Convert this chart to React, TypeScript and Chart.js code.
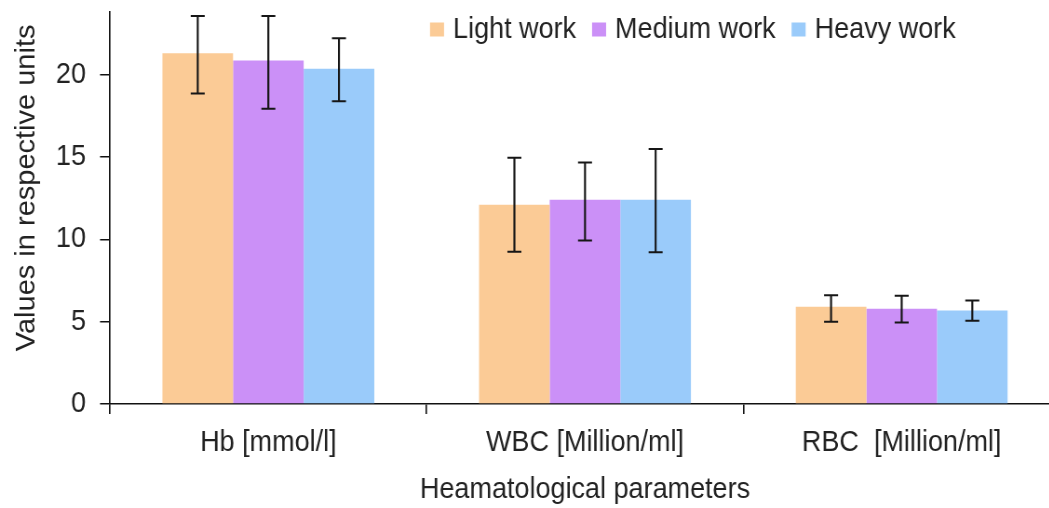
import React, { useEffect, useRef } from 'react';
import { Chart, registerables } from 'chart.js';

Chart.register(...registerables);

// ---- data ----
const categories = ['Hb [mmol/l]', 'WBC [Million/ml]', 'RBC  [Million/ml]'];
const seriesLabels = ['Light work', 'Medium work', 'Heavy work'];
const lightWork = [21.3, 12.1, 5.9];
const mediumWork = [20.85, 12.4, 5.78];
const heavyWork = [20.35, 12.4, 5.67];
const lightHigh = [23.55, 14.95, 6.6];
const lightLow = [18.85, 9.25, 5.0];
const mediumHigh = [23.55, 14.67, 6.57];
const mediumLow = [17.93, 9.93, 4.95];
const heavyHigh = [22.2, 15.48, 6.28];
const heavyLow = [18.38, 9.22, 5.06];
const yTicks = [0, 5, 10, 15, 20];
const yMax = 23.8;
const xTitle = 'Heamatological parameters';
const yTitle = 'Values in respective units';

// ---- styling ----
const FONT = "'Liberation Sans', Arial, sans-serif";
const FS = 29; // font size (text is shown slightly condensed horizontally)
const K = 27 / 29; // horizontal condensing factor of the drawing
const TEXT = '#222222';
const AXIS = '#111111';
const colors = ['#FBCB96', '#CB90F7', '#9ACBFA'];
const CANVAS_W = 1150;
const CANVAS_H = 508;

const errorBarPlugin = {
  id: 'errorBars',
  afterDatasetsDraw(chart: any) {
    const ctx = chart.ctx;
    const yScale = chart.scales.y;
    ctx.save();
    ctx.strokeStyle = '#161616';
    chart.data.datasets.forEach((ds: any, i: number) => {
      const meta = chart.getDatasetMeta(i);
      meta.data.forEach((bar: any, j: number) => {
        const x = bar.x;
        const yHi = yScale.getPixelForValue(ds.errHigh[j]);
        const yLo = yScale.getPixelForValue(ds.errLow[j]);
        const cap = 7 / K;
        ctx.lineWidth = 2 / K;
        ctx.beginPath();
        ctx.moveTo(x, yHi);
        ctx.lineTo(x, yLo);
        ctx.stroke();
        ctx.lineWidth = 2;
        ctx.beginPath();
        ctx.moveTo(x - cap, yHi);
        ctx.lineTo(x + cap, yHi);
        ctx.moveTo(x - cap, yLo);
        ctx.lineTo(x + cap, yLo);
        ctx.stroke();
      });
    });
    ctx.restore();
  },
};

const legendPlugin = {
  id: 'insideLegend',
  afterDraw(chart: any) {
    const ctx = chart.ctx;
    ctx.save();
    ctx.font = `${FS}px ${FONT}`;
    ctx.textBaseline = 'middle';
    ctx.textAlign = 'left';
    let x = 430 / K;
    const y = 29.5;
    chart.data.datasets.forEach((ds: any) => {
      ctx.fillStyle = ds.backgroundColor;
      ctx.fillRect(x, y - 7, 14 / K, 14);
      x += (14 + 9) / K;
      ctx.fillStyle = TEXT;
      ctx.fillText(ds.label, x, y);
      x += ctx.measureText(ds.label).width + 16 / K;
    });
    ctx.restore();
  },
};

export default function App() {
  const canvasRef = useRef<HTMLCanvasElement | null>(null);

  useEffect(() => {
    if (!canvasRef.current) return;
    const chart = new Chart(canvasRef.current, {
      type: 'bar',
      data: {
        labels: categories,
        datasets: [
          { label: seriesLabels[0], data: lightWork, backgroundColor: colors[0], errHigh: lightHigh, errLow: lightLow } as any,
          { label: seriesLabels[1], data: mediumWork, backgroundColor: colors[1], errHigh: mediumHigh, errLow: mediumLow } as any,
          { label: seriesLabels[2], data: heavyWork, backgroundColor: colors[2], errHigh: heavyHigh, errLow: heavyLow } as any,
        ],
      },
      options: {
        animation: false,
        responsive: false,
        devicePixelRatio: 1,
        layout: { padding: { top: 12, right: CANVAS_W - 1060 / K, left: 0, bottom: 0 } },
        datasets: { bar: { categoryPercentage: 0.669, barPercentage: 1.0 } },
        plugins: {
          legend: { display: false },
          tooltip: { enabled: false },
        },
        scales: {
          x: {
            grid: { display: true, drawOnChartArea: false, drawTicks: true, tickLength: 10, color: AXIS, lineWidth: 1.5 / K, offset: true },
            border: { display: true, color: AXIS, width: 1.5 },
            ticks: { color: TEXT, font: { family: FONT, size: FS }, padding: 12, maxRotation: 0, autoSkip: false },
            title: { display: true, text: xTitle, color: TEXT, font: { family: FONT, size: FS, lineHeight: 1 }, padding: { top: 0, bottom: 4 } },
            afterFit: (s: any) => { s.height = 104; s.paddingLeft = 0; s.paddingRight = 0; },
          },
          y: {
            min: 0,
            max: yMax,
            afterBuildTicks: (s: any) => { s.ticks = yTicks.map((v) => ({ value: v })); },
            grid: { display: true, drawOnChartArea: false, drawTicks: true, tickLength: 10 / K, color: AXIS, lineWidth: 1.5 },
            border: { display: true, color: AXIS, width: 1.5 / K },
            ticks: { color: TEXT, font: { family: FONT, size: FS }, padding: 14 / K },
            title: { display: true, text: '     ' + yTitle, color: TEXT, font: { family: FONT, size: FS, lineHeight: 1 }, padding: { top: 27 / K - FS / 2, bottom: 0 } },
            afterFit: (s: any) => { s.width = 110 / K; s.paddingTop = 0; s.paddingBottom = 0; },
          },
        },
      } as any,
      plugins: [errorBarPlugin, legendPlugin],
    });
    return () => chart.destroy();
  }, []);

  return (
    <div style={{ position: 'absolute', left: 0, top: 0, width: 1049, height: 508, overflow: 'hidden', background: '#fff' }}>
      <div style={{ width: CANVAS_W, height: CANVAS_H, transform: `scaleX(${K})`, transformOrigin: '0 0' }}>
        <canvas ref={canvasRef} width={CANVAS_W} height={CANVAS_H} style={{ display: 'block', width: CANVAS_W, height: CANVAS_H }} />
      </div>
    </div>
  );
}
